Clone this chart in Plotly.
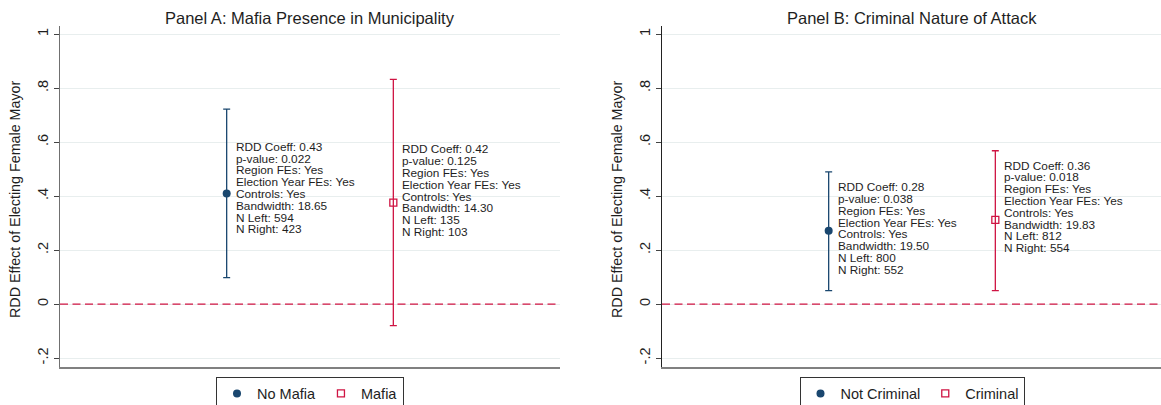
import plotly.graph_objects as go

# ---------------- data ----------------
positions = [1, 2]

groups_a = ["No Mafia", "Mafia"]
est_a = [0.410, 0.376]
lo_a = [0.098, -0.080]
hi_a = [0.722, 0.832]
coef_a = [0.43, 0.42]
pval_a = ["0.022", "0.125"]
bw_a = ["18.65", "14.30"]
nleft_a = [594, 135]
nright_a = [423, 103]

groups_b = ["Not Criminal", "Criminal"]
est_b = [0.272, 0.312]
lo_b = [0.050, 0.050]
hi_b = [0.490, 0.568]
coef_b = [0.28, 0.36]
pval_b = ["0.038", "0.018"]
bw_b = ["19.50", "19.83"]
nleft_b = [800, 812]
nright_b = [552, 554]

titles = ["Panel A: Mafia Presence in Municipality", "Panel B: Criminal Nature of Attack"]
ytitle = "RDD Effect of Electing Female Mayor"
ytick_vals = [-0.2, 0, 0.2, 0.4, 0.6, 0.8, 1]
ytick_text = ["-.2", "0", ".2", ".4", ".6", ".8", "1"]

# ---------------- style ----------------
W, H = 1161, 405
FONT = "Liberation Sans, Arial, sans-serif"
BLUE = "#1a476f"
RED = "#cf1443"
GRID = "#e8eeee"
TXT = "#1e1e1e"
MT, MB = 26, 38
PH = H - MT - MB

fig = go.Figure()

panels = [
    dict(groups=groups_a, est=est_a, lo=lo_a, hi=hi_a, coef=coef_a, pval=pval_a, bw=bw_a,
         nl=nleft_a, nr=nright_a, xa="x", ya="y", leg="legend"),
    dict(groups=groups_b, est=est_b, lo=lo_b, hi=hi_b, coef=coef_b, pval=pval_b, bw=bw_b,
         nl=nleft_b, nr=nright_b, xa="x2", ya="y2", leg="legend2"),
]
colors = [BLUE, RED]
markers = [dict(symbol="circle", size=8, color=BLUE),
           dict(symbol="square-open", size=7, color=RED, line=dict(color=RED, width=1.3))]

annotations = []
LINE_H = 11.8
for p in panels:
    for i in range(2):
        c = colors[i]
        fig.add_trace(go.Scatter(
            x=[positions[i]], y=[p["est"][i]], mode="markers", name=p["groups"][i],
            marker=markers[i], xaxis=p["xa"], yaxis=p["ya"], legend=p["leg"],
            error_y=dict(type="data", symmetric=False,
                         array=[p["hi"][i] - p["est"][i]],
                         arrayminus=[p["est"][i] - p["lo"][i]],
                         color=c, thickness=1.3, width=3.5),
            hoverinfo="skip"))
        lines = [
            f"RDD Coeff: {p['coef'][i]:.2f}",
            f"p-value: {p['pval'][i]}",
            "Region FEs: Yes",
            "Election Year FEs: Yes",
            "Controls: Yes",
            f"Bandwidth: {p['bw'][i]}",
            f"N Left: {p['nl'][i]}",
            f"N Right: {p['nr'][i]}",
        ]
        n = len(lines)
        for k, t in enumerate(lines):
            annotations.append(dict(
                x=positions[i], y=p["coef"][i], xref=p["xa"], yref=p["ya"],
                text=t, showarrow=False, xanchor="left", yanchor="middle",
                xshift=7, yshift=-(k - (n - 1) / 2) * LINE_H,
                font=dict(family=FONT, size=11.8, color=TXT)))

# panel geometry (pixels)
ax_left = [60, 662]
ax_width = 500
for j, (xl, title) in enumerate(zip(ax_left, titles)):
    cx = (xl + ax_width / 2) / W
    annotations.append(dict(x=cx, y=(H - MB - 17.5) / PH, xref="paper", yref="paper",
                            text=title, showarrow=False, xanchor="center", yanchor="middle",
                            font=dict(family=FONT, size=16.5, color=TXT)))
    annotations.append(dict(x=(xl - 45) / W, y=(H - MB - 199) / PH, xref="paper", yref="paper",
                            text=ytitle, showarrow=False, textangle=-90,
                            xanchor="center", yanchor="middle",
                            font=dict(family=FONT, size=14.3, color=TXT)))

shapes = []
for xa, ya in [("x", "y"), ("x2", "y2")]:
    shapes.append(dict(type="line", xref=f"{xa} domain", yref=ya, x0=0, x1=1, y0=0, y1=0,
                       line=dict(color=RED, width=1.4, dash="8px,4.5px"), layer="above"))

yr = [-0.233, 1.03]
common_y = dict(range=yr, tickvals=ytick_vals, ticktext=ytick_text, tickangle=-90,
                ticks="outside", ticklen=5, tickwidth=1, tickcolor="#444",
                tickfont=dict(family=FONT, size=14.5, color=TXT),
                showgrid=True, gridcolor=GRID, gridwidth=1, zeroline=False,
                showline=True, linewidth=1.2, automargin=False, fixedrange=True)
common_x = dict(showticklabels=False, ticks="", showgrid=False, zeroline=False,
                showline=True, linecolor="#808080", linewidth=2, automargin=False,
                fixedrange=True)

right_b = min(1.0, (ax_left[1] + ax_width) / W)
xr_b = 3 * (right_b * W - ax_left[1]) / ax_width

leg_common = dict(orientation="h", y=-(376.5 - (H - MB)) / PH, yanchor="top",
                  xanchor="center", bordercolor="#333", borderwidth=1, bgcolor="white",
                  font=dict(family=FONT, size=14.5, color=TXT), itemwidth=30)

fig.update_layout(
    width=W, height=H,
    margin=dict(l=0, r=0, t=MT, b=MB, pad=0, autoexpand=False),
    paper_bgcolor="white", plot_bgcolor="white",
    font=dict(family=FONT, color=TXT),
    xaxis=dict(domain=[ax_left[0] / W, (ax_left[0] + ax_width) / W], range=[0, 3], **common_x),
    xaxis2=dict(domain=[ax_left[1] / W, right_b], range=[0, xr_b], anchor="y2", **common_x),
    yaxis=dict(anchor="x", linecolor="#707070", **common_y),
    yaxis2=dict(anchor="x2", linecolor="#222222", **common_y),
    legend=dict(x=(ax_left[0] + ax_width / 2) / W, **leg_common),
    legend2=dict(x=(ax_left[1] + ax_width / 2) / W, **leg_common),
    annotations=annotations,
    shapes=shapes,
    showlegend=True,
)

fig.write_html("out.html", config={"displayModeBar": False},
               post_script="document.body.style.margin='0';document.body.style.overflow='hidden';")
